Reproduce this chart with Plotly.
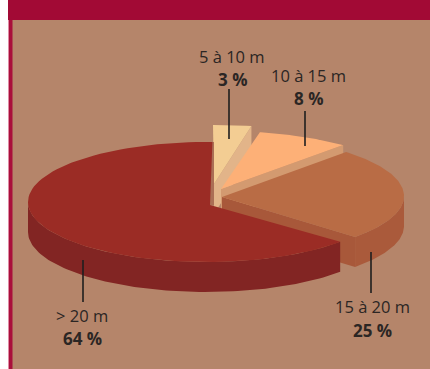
import math
import plotly.graph_objects as go

# Shares of the four length classes, in percent
labels = ["5 à 10 m", "10 à 15 m", "15 à 20 m", "> 20 m"]
shares = [3, 8, 25, 64]

TOP = ["#f3cd93", "#fdb077", "#b96c45", "#9b2c25"]
CUT = ["#e2b489", "#d39a70", "#a8583a", "#9b2c25"]
WALL = ["#e2b489", "#d39a70", "#aa5a3b", "#822523"]

# Wedge placement: ellipse centre, radii, clockwise start angle from the top
PLACE = [
    dict(cx=213, cy=184, rx=205, ry=59, start=0.0, apex=(214, 184)),
    dict(cx=221, cy=189, rx=187, ry=58, start=12.0, apex=(221, 189)),
    dict(cx=222, cy=196, rx=182, ry=60, start=43.0, apex=(222, 197)),
    dict(cx=206.5, cy=202, rx=178.5, ry=60, start=131.5, apex=(210, 205)),
]
DEPTH = 30

fig = go.Figure()


def arc(p, a0, a1, n=90):
    pts = []
    for i in range(n + 1):
        a = math.radians(a0 + (a1 - a0) * i / n)
        pts.append((p["cx"] + p["rx"] * math.sin(a), p["cy"] - p["ry"] * math.cos(a)))
    return pts


def poly(pts, color):
    fig.add_trace(go.Scatter(
        x=[q[0] for q in pts] + [pts[0][0]],
        y=[q[1] for q in pts] + [pts[0][1]],
        mode="lines", fill="toself", fillcolor=color,
        line=dict(width=0, color=color), hoverinfo="skip", showlegend=False,
    ))


def down(pts):
    return [(x, y + DEPTH) for x, y in pts]


# Wedges are painted from the back of the pie to the front
for i in range(len(shares)):
    p = PLACE[i]
    a0 = p["start"]
    a1 = a0 + shares[i] * 3.6
    edge = arc(p, a0, a1)
    if i == 3:
        # Narrow shaded edge beside the next wedge
        poly([(210, 142), (214, 142), (214, 205), (210, 205)], "#ab6e55")
    # Radial face on the trailing side
    tip = edge[-1]
    face = [p["apex"], tip] + [(tip[0], tip[1] + DEPTH), (p["apex"][0], p["apex"][1] + DEPTH)]
    if i < 3:
        poly(face, CUT[i])
    # Outer rim where it faces the viewer
    lo, hi = max(a0, 90), min(a1, 270)
    if hi > lo:
        rim = arc(p, lo, hi)
        poly(rim + down(rim)[::-1], WALL[i])
    poly([p["apex"]] + edge, TOP[i])

# Leader lines from each label to its wedge
leaders = [((229, 89), (229, 139)), ((305, 111), (305, 146)),
           ((371, 252), (371, 293)), ((83, 260), (83, 302))]
for (x0, y0), (x1, y1) in leaders:
    fig.add_shape(type="line", x0=x0, y0=y0, x1=x1, y1=y1, line=dict(color="#1f1f1f", width=1.6))

# Label positions: name line and value line
label_pos = [(232, 56, 79), (308, 75, 98), (372, 306, 330), (82, 315, 338)]
for name, val, (x, y0, y1) in zip(labels, shares, label_pos):
    fig.add_annotation(x=x, y=y0, text=name, showarrow=False,
                       font=dict(family="Open Sans", size=16.5, color="#2b2624"))
    fig.add_annotation(x=x, y=y1, text=f"<b>{val} %</b>", showarrow=False,
                       font=dict(family="Open Sans", size=17, color="#2b2624"))

# Page furniture: backdrop, banner and side rule
fig.add_shape(type="rect", x0=9, x1=430, y0=0, y1=369, fillcolor="#b5856a", line_width=0, layer="below")
fig.add_shape(type="rect", x0=8, x1=9, y0=20, y1=369, fillcolor="#e08ba5", line_width=0, layer="below")
fig.add_shape(type="rect", x0=8, x1=430, y0=0, y1=20, fillcolor="#a20a35", line_width=0, layer="below")
fig.add_shape(type="rect", x0=9, x1=12.5, y0=20, y1=369, fillcolor="#a90f3b", line_width=0, layer="below")

fig.update_layout(
    width=430, height=369, margin=dict(l=0, r=0, t=0, b=0),
    paper_bgcolor="white", plot_bgcolor="white", showlegend=False,
    xaxis=dict(range=[0, 430], visible=False, fixedrange=True),
    yaxis=dict(range=[369, 0], visible=False, fixedrange=True),
)
fig.write_html("out.html", config=dict(displayModeBar=False))
